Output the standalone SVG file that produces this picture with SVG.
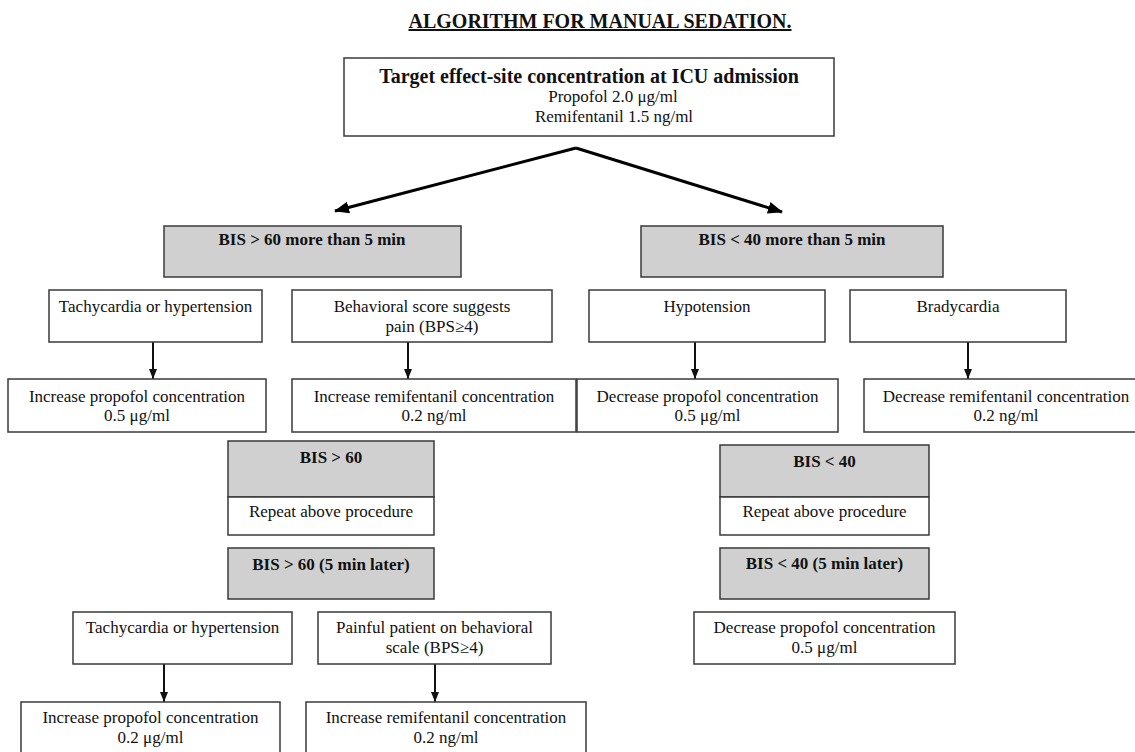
<svg xmlns="http://www.w3.org/2000/svg" width="1135" height="752" viewBox="0 0 1135 752">
<style>
text{font-family:"Liberation Serif","Times New Roman",serif;font-size:17px;fill:#111;text-anchor:middle}
.b{font-weight:bold}
.t{font-size:20px;font-weight:bold}
.box{fill:#fff;stroke:#3a3a3a;stroke-width:1.5}
.g{fill:#d0d0d0;stroke:#3a3a3a;stroke-width:1.5}
.big{stroke:#000;stroke-width:3;fill:none}
.sm{stroke:#111;stroke-width:2;fill:none}
</style>
<defs>
<marker id="ahb" markerUnits="userSpaceOnUse" markerWidth="16" markerHeight="12" refX="14" refY="6" orient="auto"><path d="M0,0 L15,6 L0,12 z" fill="#000"/></marker>
<marker id="ahs" markerUnits="userSpaceOnUse" markerWidth="10" markerHeight="10" refX="10" refY="5" orient="auto"><path d="M0,1 L10,5 L0,9 z" fill="#111"/></marker>
</defs>
<text x="600" y="28" class="t" text-decoration="underline">ALGORITHM FOR MANUAL SEDATION.</text>
<g id="top"><rect class="box" x="344" y="58" width="490" height="78"/><text x="589" y="83" class="t">Target effect-site concentration at ICU admission</text><text x="613" y="102">Propofol 2.0 μg/ml</text><text x="614" y="122">Remifentanil 1.5 ng/ml</text></g>
<g id="connectors">
<path class="big" d="M576,148 L335,211" marker-end="url(#ahb)"/>
<path class="big" d="M576,148 L782,212" marker-end="url(#ahb)"/>
<path class="sm" d="M153,342 V379" marker-end="url(#ahs)"/>
<path class="sm" d="M408,342 V379" marker-end="url(#ahs)"/>
<path class="sm" d="M695,342 V379" marker-end="url(#ahs)"/>
<path class="sm" d="M968,342 V379" marker-end="url(#ahs)"/>
<path class="sm" d="M164,664 V702" marker-end="url(#ahs)"/>
<path class="sm" d="M435,664 V702" marker-end="url(#ahs)"/>
</g>
<g id="bis60"><rect class="g" x="164" y="226" width="297" height="51"/><text x="312" y="245" class="b">BIS &gt; 60 more than 5 min</text></g>
<g id="bis40"><rect class="g" x="641" y="226" width="302" height="51"/><text x="792" y="245" class="b">BIS &lt; 40 more than 5 min</text></g>
<g id="tachy1"><rect class="box" x="49" y="290" width="213" height="52"/><text x="155.5" y="312">Tachycardia or hypertension</text></g>
<g id="behav"><rect class="box" x="292" y="290" width="260" height="52"/><text x="422" y="312">Behavioral score suggests</text><text x="432" y="332">pain (BPS≥4)</text></g>
<g id="hypo"><rect class="box" x="589" y="290" width="236" height="52"/><text x="707" y="312">Hypotension</text></g>
<g id="brady"><rect class="box" x="850" y="290" width="216" height="52"/><text x="958" y="312">Bradycardia</text></g>
<g id="incprop1"><rect class="box" x="8" y="379" width="258" height="53"/><text x="137" y="402">Increase propofol concentration</text><text x="137" y="421">0.5 μg/ml</text></g>
<g id="incremi1"><rect class="box" x="292" y="379" width="284" height="53"/><text x="434" y="402">Increase remifentanil concentration</text><text x="434" y="421">0.2 ng/ml</text></g>
<g id="decprop1"><rect class="box" x="577" y="379" width="261" height="53"/><text x="707.5" y="402">Decrease propofol concentration</text><text x="707.5" y="421">0.5 μg/ml</text></g>
<g id="decremi1"><rect class="box" x="864" y="379" width="284" height="53"/><text x="1006" y="402">Decrease remifentanil concentration</text><text x="1006" y="421">0.2 ng/ml</text></g>
<g id="bis60b"><rect class="g" x="228" y="441" width="206" height="56"/><rect class="box" x="228" y="497" width="206" height="38"/><text x="331" y="463" class="b">BIS &gt; 60</text><text x="331" y="517">Repeat above procedure</text></g>
<g id="bis40b"><rect class="g" x="720" y="445" width="209" height="52"/><rect class="box" x="720" y="497" width="209" height="38"/><text x="824.5" y="467" class="b">BIS &lt; 40</text><text x="824.5" y="517">Repeat above procedure</text></g>
<g id="bis60c"><rect class="g" x="228" y="548" width="206" height="51"/><text x="331" y="570" class="b">BIS &gt; 60 (5 min later)</text></g>
<g id="bis40c"><rect class="g" x="720" y="548" width="209" height="51"/><text x="824.5" y="569" class="b">BIS &lt; 40 (5 min later)</text></g>
<g id="tachy2"><rect class="box" x="73" y="612" width="219" height="52"/><text x="182.5" y="633">Tachycardia or hypertension</text></g>
<g id="pain2"><rect class="box" x="318" y="612" width="233" height="52"/><text x="434.5" y="633">Painful patient on behavioral</text><text x="434.5" y="653">scale (BPS≥4)</text></g>
<g id="decprop2"><rect class="box" x="694" y="612" width="261" height="52"/><text x="824.5" y="633">Decrease propofol concentration</text><text x="824.5" y="653">0.5 μg/ml</text></g>
<g id="incprop2"><rect class="box" x="21" y="702" width="259" height="60"/><text x="150.5" y="723">Increase propofol concentration</text><text x="150.5" y="743">0.2 μg/ml</text></g>
<g id="incremi2"><rect class="box" x="306" y="702" width="280" height="60"/><text x="446" y="723">Increase remifentanil concentration</text><text x="446" y="743">0.2 ng/ml</text></g>
</svg>
